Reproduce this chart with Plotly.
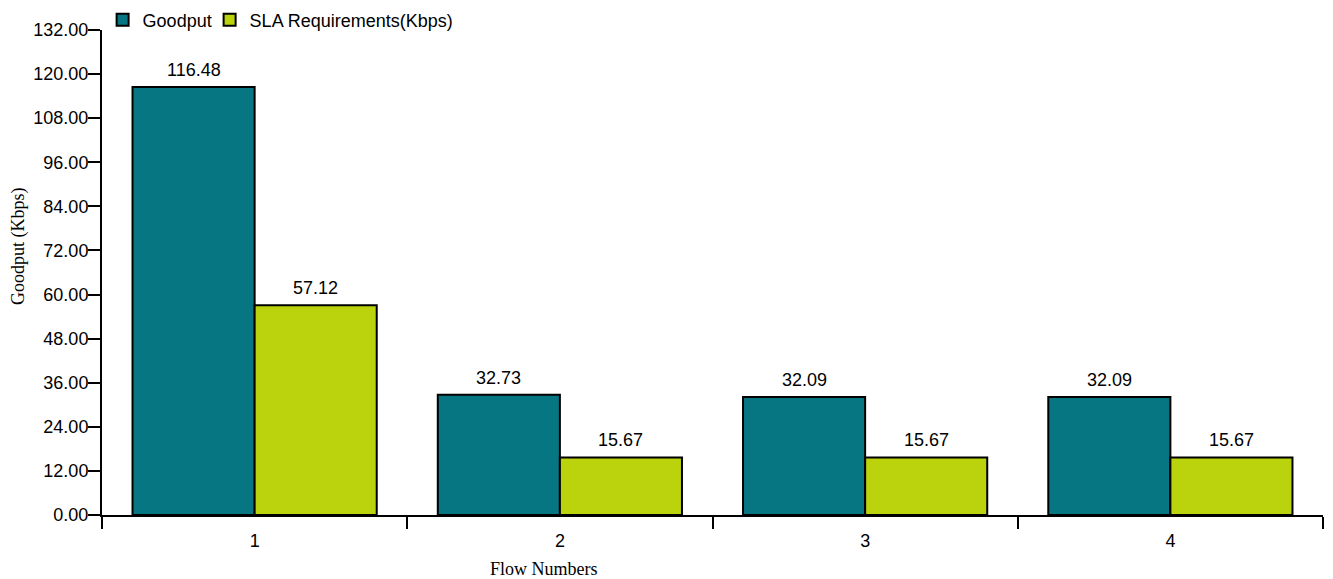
import plotly.graph_objects as go

flows = ["1", "2", "3", "4"]
goodput = [116.48, 32.73, 32.09, 32.09]
sla = [57.12, 15.67, 15.67, 15.67]
y_ticks = [0, 12, 24, 36, 48, 60, 72, 84, 96, 108, 120, 132]

SANS = "Liberation Sans, Arial"
SERIF = "Liberation Serif, Times New Roman"

fig = go.Figure()
fig.add_trace(go.Bar(
    x=flows, y=goodput, name="Goodput", legend="legend",
    marker=dict(color="#077683", line=dict(color="black", width=2)),
))
fig.add_trace(go.Bar(
    x=flows, y=sla, name="SLA Requirements(Kbps)", legend="legend2",
    marker=dict(color="#bbd30c", line=dict(color="black", width=2)),
))

# value labels above bars
for i, (g, s) in enumerate(zip(goodput, sla)):
    for off, v in ((-0.2, g), (0.2, s)):
        fig.add_annotation(x=i + off, y=v, xref="x", yref="y", text=f"{v:.2f}",
                           showarrow=False, yanchor="bottom", yshift=5,
                           font=dict(family=SANS, size=18, color="black"))

# axis titles (placed as in the reference, off-centre)
fig.add_annotation(x=(544 - 102) / 1221, y=(515 - 569) / 485, xref="paper", yref="paper",
                   text="Flow Numbers", showarrow=False, xanchor="center", yanchor="middle",
                   font=dict(family=SERIF, size=18, color="black"))
fig.add_annotation(x=(18 - 102) / 1221, y=(515 - 246) / 485, xref="paper", yref="paper",
                   text="Goodput (Kbps)", showarrow=False, textangle=-90,
                   xanchor="center", yanchor="middle",
                   font=dict(family=SERIF, size=18, color="black"))

leg_common = dict(orientation="h", xanchor="left", y=1 + 10 / 485, yanchor="middle",
                  font=dict(family=SANS, size=18, color="black"),
                  itemwidth=30, bgcolor="rgba(0,0,0,0)")

fig.update_layout(
    width=1333, height=579,
    margin=dict(l=102, r=10, t=30, b=64, autoexpand=False),
    paper_bgcolor="white", plot_bgcolor="white",
    barmode="group", bargap=0.2, bargroupgap=0,
    font=dict(family=SANS, size=18, color="black"),
    showlegend=True,
    legend=dict(x=0.0005, **leg_common),
    legend2=dict(x=0.0005 + 107 / 1221, **leg_common),
    xaxis=dict(
        type="category", tickson="boundaries", ticks="outside", ticklen=12,
        tickwidth=2, tickcolor="black", showline=True, linecolor="black", linewidth=2,
        showgrid=False, zeroline=False, automargin=False, ticklabelstandoff=8,
        tickfont=dict(family=SANS, size=18),
    ),
    yaxis=dict(
        range=[0, 132], tickvals=y_ticks, ticktext=[f"{v:.2f}" for v in y_ticks],
        ticks="outside", ticklen=12, tickwidth=2, tickcolor="black",
        showline=True, linecolor="black", linewidth=2, showgrid=False, zeroline=False,
        automargin=False, ticklabelstandoff=-4,
        tickfont=dict(family=SANS, size=18),
    ),
)

fig.write_html("out.html", config={"displayModeBar": False},
               post_script="document.body.style.margin='0';document.body.style.padding='0';")
